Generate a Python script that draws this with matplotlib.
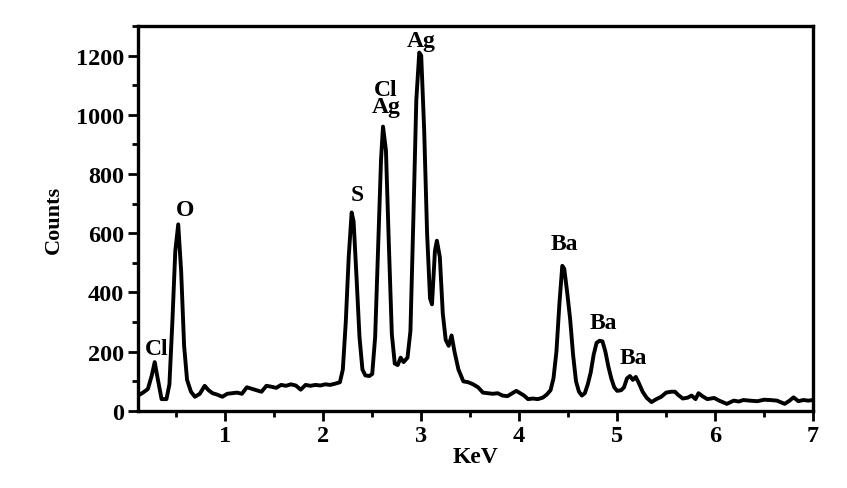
import matplotlib
matplotlib.use("Agg")
import matplotlib.pyplot as plt
from matplotlib.ticker import MultipleLocator

energy = [0.11, 0.16, 0.21, 0.25, 0.28, 0.31, 0.35, 0.40, 0.43, 0.46, 0.49, 0.52, 0.55, 0.58,
          0.61, 0.65, 0.69, 0.74, 0.79, 0.83, 0.87, 0.92, 0.97, 1.02, 1.07, 1.12, 1.17, 1.22,
          1.27, 1.32, 1.37, 1.42, 1.47, 1.52, 1.57, 1.62, 1.67, 1.72, 1.77, 1.82, 1.87, 1.92,
          1.97, 2.02, 2.07, 2.12, 2.17, 2.20, 2.23, 2.26, 2.29, 2.31, 2.34, 2.37, 2.40, 2.43,
          2.47, 2.50, 2.53, 2.56, 2.59, 2.61, 2.64, 2.67, 2.70, 2.73, 2.76, 2.79, 2.82, 2.86,
          2.89, 2.92, 2.95, 2.98, 3.00, 3.03, 3.06, 3.09, 3.11, 3.14, 3.16, 3.19, 3.22, 3.25,
          3.28, 3.31, 3.34, 3.38, 3.43, 3.48, 3.53, 3.58, 3.63, 3.68, 3.73, 3.78, 3.83, 3.88,
          3.93, 3.97, 4.01, 4.05, 4.09, 4.14, 4.19, 4.24, 4.28, 4.32, 4.35, 4.38, 4.41, 4.44,
          4.46, 4.49, 4.52, 4.55, 4.58, 4.61, 4.64, 4.67, 4.70, 4.73, 4.76, 4.79, 4.82, 4.85,
          4.88, 4.91, 4.94, 4.97, 5.00, 5.04, 5.07, 5.10, 5.13, 5.16, 5.19, 5.22, 5.26, 5.30,
          5.35, 5.40, 5.45, 5.50, 5.55, 5.59, 5.62, 5.67, 5.72, 5.76, 5.80, 5.83, 5.87, 5.92,
          5.99, 6.04, 6.12, 6.19, 6.24, 6.29, 6.35, 6.43, 6.50, 6.56, 6.63, 6.71, 6.76, 6.80,
          6.85, 6.90, 6.95, 7.00]
counts = [52, 62, 74, 120, 165, 110, 40, 40, 90, 300, 540, 630, 470, 220,
          105, 65, 48, 58, 85, 70, 60, 55, 48, 58, 60, 62, 58, 80,
          75, 70, 65, 85, 82, 78, 88, 85, 90, 86, 72, 88, 85, 88,
          86, 90, 88, 92, 97, 140, 300, 520, 670, 640, 450, 250, 140, 120,
          118, 125, 250, 550, 850, 960, 880, 560, 260, 160, 155, 180, 165, 180,
          270, 650, 1050, 1210, 1200, 950, 600, 380, 360, 540, 575, 520, 330, 240,
          220, 255, 200, 140, 100, 97, 90, 80, 62, 60, 58, 60, 52, 50,
          60, 68, 60, 52, 40, 42, 40, 45, 55, 70, 110, 200, 360, 490,
          480, 400, 310, 190, 100, 65, 52, 60, 90, 130, 190, 230, 237, 235,
          200, 150, 110, 80, 68, 70, 80, 110, 118, 105, 115, 95, 65, 45,
          30, 40, 48, 62, 65, 65, 55, 42, 45, 52, 40, 60, 50, 40,
          44, 35, 24, 35, 32, 37, 35, 33, 38, 37, 35, 24, 35, 46,
          33, 37, 35, 37]

peak_labels = ["Cl", "O", "S", "Cl\nAg", "Ag", "Ba", "Ba", "Ba"]
label_x = [0.30, 0.59, 2.35, 2.64, 3.00, 4.46, 4.86, 5.17]
label_y = [212, 681, 731, 1058, 1250, 566, 300, 182]

plt.rcParams['font.family'] = ['Liberation Serif', 'DejaVu Serif']
plt.rcParams['font.weight'] = 'bold'

fig = plt.figure(figsize=(8.47, 4.89), dpi=100)
ax = fig.add_axes([0.163, 0.1575, 0.797, 0.7875])
ax.plot(energy, counts, color='black', lw=2.8, solid_joinstyle='round')

ax.set_xlim(0.11, 7.0)
ax.set_ylim(0, 1300)
ax.xaxis.set_major_locator(MultipleLocator(1))
ax.xaxis.set_minor_locator(MultipleLocator(0.5))
ax.yaxis.set_major_locator(MultipleLocator(200))
ax.yaxis.set_minor_locator(MultipleLocator(100))
ax.tick_params(which='major', direction='out', length=7, width=2, labelsize=17.5, pad=3)
ax.tick_params(which='minor', direction='out', length=4.5, width=2)
for lab in ax.get_xticklabels() + ax.get_yticklabels():
    lab.set_fontweight('bold')
for s in ax.spines.values():
    s.set_linewidth(2.4)

ax.set_xlabel("KeV", fontsize=17, fontweight='bold', labelpad=0)
ax.set_ylabel("Counts", fontsize=16, fontweight='bold', labelpad=9)

for t, x, y in zip(peak_labels, label_x, label_y):
    ax.text(x, y, t, ha='center', va='center', fontsize=17, fontweight='bold',
            linespacing=0.75)

fig.savefig("out.png", dpi=100)
